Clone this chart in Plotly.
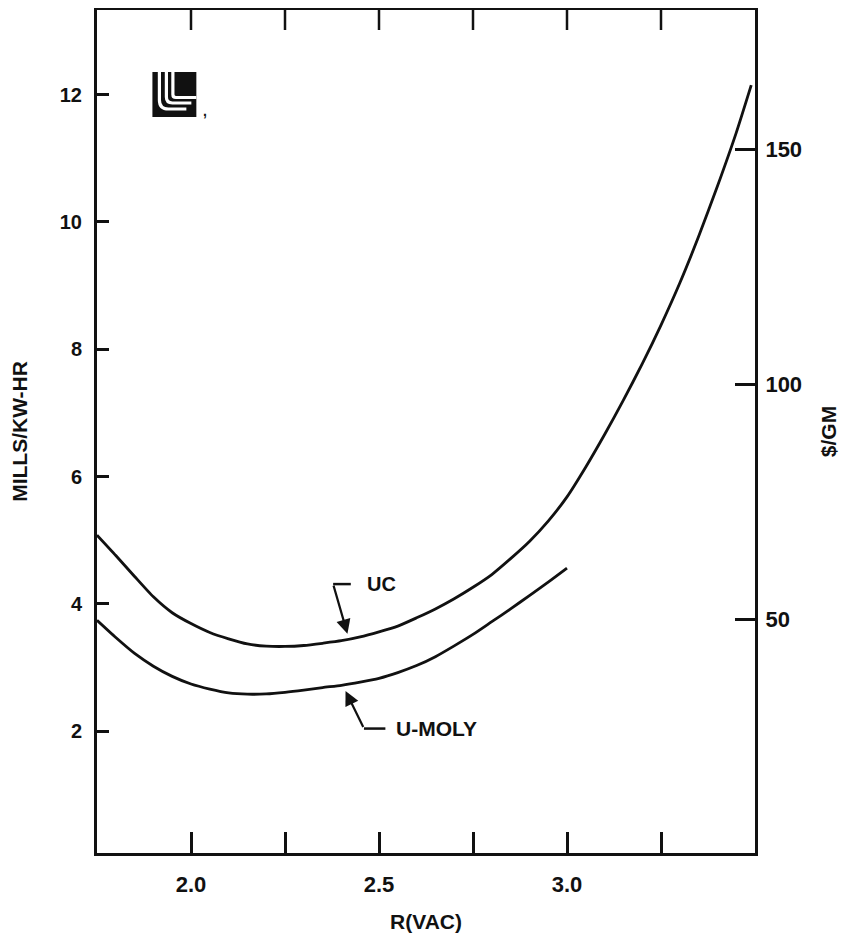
import plotly.graph_objects as go

# ---- data ----
x_uc = [1.75, 1.80, 1.85, 1.90, 1.95, 2.00, 2.05, 2.10, 2.15, 2.20, 2.25, 2.30, 2.35,
        2.40, 2.45, 2.50, 2.55, 2.60, 2.65, 2.70, 2.75, 2.80, 2.85, 2.90, 2.95, 3.00,
        3.05, 3.10, 3.15, 3.20, 3.25, 3.30, 3.35, 3.40, 3.45, 3.49]
y_uc = [5.08, 4.76, 4.43, 4.11, 3.86, 3.69, 3.55, 3.45, 3.37, 3.335, 3.33, 3.345, 3.38,
        3.42, 3.48, 3.56, 3.65, 3.78, 3.92, 4.08, 4.26, 4.46, 4.71, 4.98, 5.30, 5.68,
        6.15, 6.66, 7.20, 7.77, 8.38, 9.04, 9.77, 10.56, 11.40, 12.15]

x_um = [1.75, 1.80, 1.85, 1.90, 1.95, 2.00, 2.05, 2.10, 2.15, 2.20, 2.25, 2.30, 2.35,
        2.40, 2.45, 2.50, 2.55, 2.60, 2.65, 2.70, 2.75, 2.80, 2.85, 2.90, 2.95, 3.00]
y_um = [3.74, 3.47, 3.22, 3.02, 2.86, 2.74, 2.66, 2.60, 2.58, 2.585, 2.61, 2.645, 2.685,
        2.72, 2.77, 2.83, 2.92, 3.03, 3.17, 3.34, 3.52, 3.72, 3.92, 4.13, 4.34, 4.56]

x_tickvals = [2.0, 2.25, 2.5, 2.75, 3.0, 3.25]
x_ticktext = ["2.0", "", "2.5", "", "3.0", ""]
y_tickvals = [2, 4, 6, 8, 10, 12]
y2_tickvals = [50, 100, 150]

x_range = [1.75, 3.5]
y_range = [0.085, 13.33]
y2_range = [0.24, 179.7]

FONT = "Liberation Sans, Arial, sans-serif"
BLACK = "#111111"

fig = go.Figure()
fig.add_trace(go.Scatter(x=x_uc, y=y_uc, mode="lines", name="UC",
                         line=dict(color=BLACK, width=2.8, shape="spline", smoothing=0.6),
                         hoverinfo="skip", showlegend=False))
fig.add_trace(go.Scatter(x=x_um, y=y_um, mode="lines", name="U-MOLY",
                         line=dict(color=BLACK, width=2.8, shape="spline", smoothing=0.6),
                         hoverinfo="skip", showlegend=False))
# invisible trace to bind the right y axis
fig.add_trace(go.Scatter(x=[None], y=[None], yaxis="y2", mode="lines",
                         showlegend=False, hoverinfo="skip"))

# page has an 8px body margin
OFF = 8
W, H = 832, 925
ML, MR, MT, MB = 88.5, 84.5, 2, 80
pw, ph = W - ML - MR, H - MT - MB


def px2paper(px, py):
    """page pixel -> paper coordinates"""
    return ((px - OFF) - ML) / pw, ((H - MB) - (py - OFF)) / ph


shapes = []
# top-edge ticks (mirroring the bottom axis ticks)
top_len = 20 / ph
for tv in x_tickvals:
    shapes.append(dict(type="line", xref="x", yref="paper", x0=tv, x1=tv, y0=1, y1=1 - top_len,
                       line=dict(color=BLACK, width=2.5), layer="above"))

# ---- logo (decoration, positioned in paper space) ----
x0, y0 = px2paper(152, 117)
x1, y1 = px2paper(196, 72)
shapes.append(dict(type="rect", xref="paper", yref="paper", x0=x0, y0=y0, x1=x1, y1=y1,
                   fillcolor=BLACK, line=dict(width=0), layer="above"))


def lpath(xv, ytop, ybot, r, xend):
    a = px2paper(xv, ytop)
    b = px2paper(xv, ybot - r)
    c = px2paper(xv, ybot)
    d = px2paper(xv + r, ybot)
    e = px2paper(xend, ybot)
    return f"M {a[0]},{a[1]} L {b[0]},{b[1]} Q {c[0]},{c[1]} {d[0]},{d[1]} L {e[0]},{e[1]}"


for xv, yb, r, xe in [(159, 109, 9, 186), (166, 103, 6, 191), (172.5, 97.5, 3, 196)]:
    shapes.append(dict(type="path", xref="paper", yref="paper", path=lpath(xv, 72, yb, r, xe),
                       line=dict(color="white", width=3.2), layer="above"))

# leader lines for labels
shapes.append(dict(type="line", xref="x", yref="y", x0=2.378, y0=4.31, x1=2.425, y1=4.31,
                   line=dict(color=BLACK, width=2.5)))
shapes.append(dict(type="line", xref="x", yref="y", x0=2.460, y0=2.04, x1=2.517, y1=2.04,
                   line=dict(color=BLACK, width=2.5)))

annotations = [
    dict(x=2.416, y=3.53, ax=2.378, ay=4.31, xref="x", yref="y", axref="x", ayref="y",
         text="", showarrow=True, arrowhead=2, arrowsize=1.3, arrowwidth=2.2, arrowcolor=BLACK),
    dict(x=2.411, y=2.63, ax=2.460, ay=2.04, xref="x", yref="y", axref="x", ayref="y",
         text="", showarrow=True, arrowhead=2, arrowsize=1.3, arrowwidth=2.2, arrowcolor=BLACK),
    dict(x=2.462, y=4.31, xref="x", yref="y", text="UC", showarrow=False, xanchor="left",
         yanchor="middle", font=dict(family=FONT, size=20, color=BLACK, weight="bold")),
    dict(x=2.541, y=2.04, xref="x", yref="y", text="U-MOLY", showarrow=False, xanchor="left",
         yanchor="middle", font=dict(family=FONT, size=21, color=BLACK, weight="bold")),
]
cx, cy = px2paper(201, 101)
annotations.append(dict(x=cx, y=cy, xref="paper", yref="paper", text=",", showarrow=False,
                        font=dict(family=FONT, size=14, color=BLACK, weight="bold")))

axis_common = dict(showgrid=False, zeroline=False, showline=True, linecolor=BLACK, linewidth=3,
                   ticks="inside", tickcolor=BLACK, tickwidth=2.5)

fig.update_layout(
    width=W, height=H,
    margin=dict(l=ML, r=MR, t=MT, b=MB, autoexpand=False),
    paper_bgcolor="white", plot_bgcolor="white",
    font=dict(family=FONT, color=BLACK, weight="bold"),
    xaxis=dict(**axis_common, range=x_range, tickvals=x_tickvals, ticktext=x_ticktext,
               ticklen=21, mirror=True, ticklabelstandoff=10,
               tickfont=dict(family=FONT, size=22, weight="bold"),
               title=dict(text="R(VAC)", standoff=29,
                          font=dict(family=FONT, size=21, weight="bold"))),
    yaxis=dict(**axis_common, range=y_range, tickvals=y_tickvals, ticklen=12, mirror=True,
               ticklabelstandoff=8,
               tickfont=dict(family=FONT, size=20, weight="bold"),
               title=dict(text="MILLS/KW-HR", standoff=27,
                          font=dict(family=FONT, size=21, weight="bold"))),
    yaxis2=dict(**axis_common, overlaying="y", side="right", range=y2_range,
                tickvals=y2_tickvals, ticklen=20, ticklabelstandoff=3,
                tickfont=dict(family=FONT, size=22, weight="bold"),
                title=dict(text="$/GM", standoff=21,
                           font=dict(family=FONT, size=21, weight="bold"))),
    shapes=shapes, annotations=annotations,
)

fig.write_html("out.html")
